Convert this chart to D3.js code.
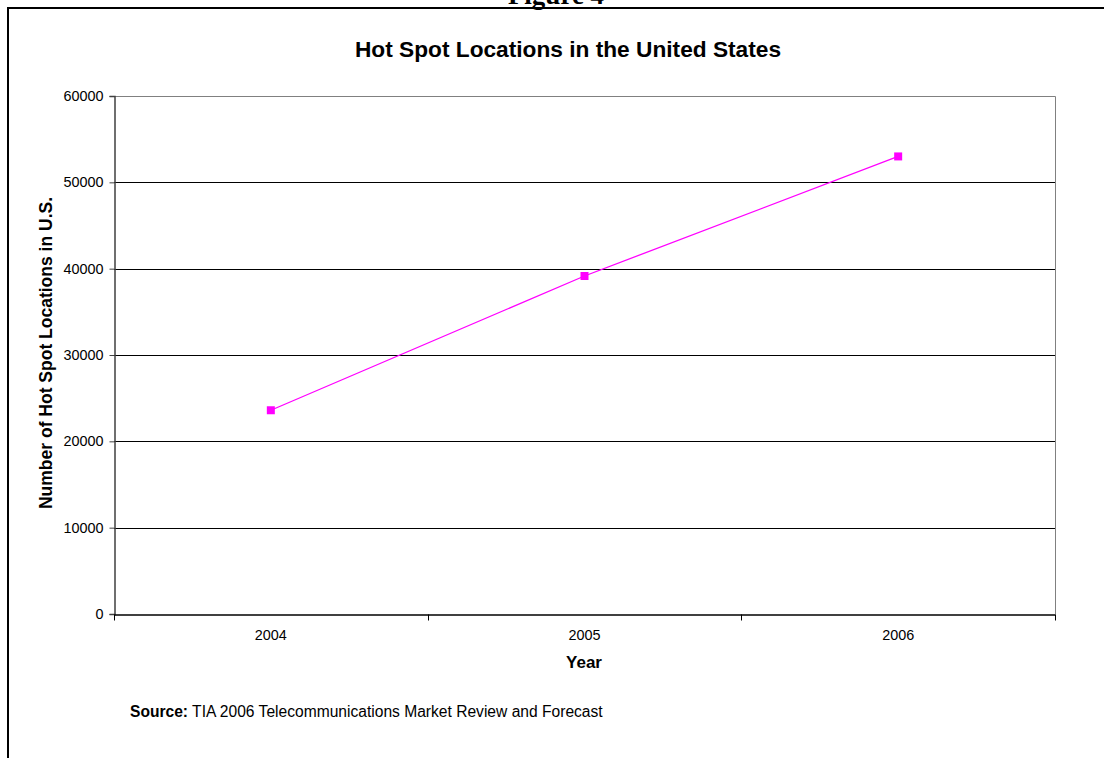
<!DOCTYPE html>
<html>
<head>
<meta charset="utf-8">
<script src="https://cdn.jsdelivr.net/npm/d3@7"></script>
<style>
  body { margin: 0; background: #fff; }
  text { font-family: Arial, "Liberation Sans", sans-serif; fill: #000; }
</style>
</head>
<body>
<script>
var years = ["2004", "2005", "2006"];
var hotSpots = [23600, 39150, 53000];
var yTicks = [0, 10000, 20000, 30000, 40000, 50000, 60000];

var width = 1104, height = 758;
var plot = {left: 114, right: 1055, top: 96, bottom: 614};

var svg = d3.select("body")
    .append("svg")
    .attr("width", width)
    .attr("height", height);

// page frame (document border)
svg.append("path")
    .attr("d", "M8," + height + "V8H" + width)
    .attr("fill", "none")
    .attr("stroke", "#000")
    .attr("stroke-width", 2);

svg.append("text")
    .attr("x", 556)
    .attr("y", 4)
    .attr("text-anchor", "middle")
    .style("font-family", "'Liberation Serif', 'Times New Roman', serif")
    .style("font-weight", "bold")
    .style("font-size", "27px")
    .text("Figure 4");

var x = d3.scaleBand()
    .domain(years)
    .range([plot.left, plot.right]);

var y = d3.scaleLinear()
    .domain([0, 60000])
    .range([plot.bottom, plot.top]);

// gridlines
svg.append("g")
    .selectAll("line")
    .data(yTicks.filter(function(d){ return d > 0 && d < 60000; }))
    .enter()
    .append("line")
    .attr("x1", plot.left)
    .attr("x2", plot.right)
    .attr("y1", function(d){ return Math.round(y(d)) + 0.5; })
    .attr("y2", function(d){ return Math.round(y(d)) + 0.5; })
    .attr("stroke", "#000")
    .attr("stroke-width", 1);

// top and right plot border
svg.append("path")
    .attr("d", "M" + plot.left + "," + (plot.top + 0.5) + "H" + (plot.right + 0.5) + "V" + plot.bottom)
    .attr("fill", "none")
    .attr("stroke", "#808080")
    .attr("stroke-width", 1);

// y axis
var yAxis = svg.append("g")
    .attr("transform", "translate(" + (plot.left + 0.5) + ",0)")
    .call(d3.axisLeft(y).tickValues(yTicks).tickSize(5).tickPadding(6).tickFormat(d3.format("d")));
yAxis.select(".domain").attr("stroke", "#404040").attr("stroke-width", 1.5);
yAxis.selectAll(".tick line").attr("stroke", "#404040");
yAxis.selectAll("text").style("font-size", "14.4px").attr("fill", "#000");

// x axis
var xAxis = svg.append("g")
    .attr("transform", "translate(0," + (plot.bottom + 0.5) + ")")
    .call(d3.axisBottom(x).tickSize(0).tickPadding(15));
xAxis.select(".domain").attr("stroke", "#000").attr("stroke-width", 1.5);
xAxis.selectAll("text").style("font-size", "14.4px").attr("fill", "#000");

// tick marks at the category boundaries
xAxis.selectAll(".bound")
    .data(years.concat(["end"]))
    .enter()
    .append("line")
    .attr("class", "bound")
    .attr("x1", function(d, i){ return Math.round(plot.left + i * x.step()) + 0.5; })
    .attr("x2", function(d, i){ return Math.round(plot.left + i * x.step()) + 0.5; })
    .attr("y1", 0)
    .attr("y2", 6)
    .attr("stroke", "#000");

// series line
var line = d3.line()
    .x(function(d, i){ return x(years[i]) + x.bandwidth() / 2; })
    .y(function(d){ return y(d); });

svg.append("path")
    .datum(hotSpots)
    .attr("d", line)
    .attr("fill", "none")
    .attr("stroke", "#ff00ff")
    .attr("stroke-width", 1.3);

svg.selectAll(".marker")
    .data(hotSpots)
    .enter()
    .append("rect")
    .attr("class", "marker")
    .attr("x", function(d, i){ return x(years[i]) + x.bandwidth() / 2 - 4; })
    .attr("y", function(d){ return y(d) - 4; })
    .attr("width", 8)
    .attr("height", 8)
    .attr("fill", "#ff00ff");

// titles
svg.append("text")
    .attr("x", 568)
    .attr("y", 57)
    .attr("text-anchor", "middle")
    .style("font-weight", "bold")
    .style("font-size", "22.7px")
    .text("Hot Spot Locations in the United States");

svg.append("text")
    .attr("transform", "translate(52,353) rotate(-90)")
    .attr("text-anchor", "middle")
    .style("font-weight", "bold")
    .style("font-size", "17.5px")
    .text("Number of Hot Spot Locations in U.S.");

svg.append("text")
    .attr("x", 584)
    .attr("y", 668)
    .attr("text-anchor", "middle")
    .style("font-weight", "bold")
    .style("font-size", "17px")
    .text("Year");

var src = svg.append("text")
    .attr("x", 130)
    .attr("y", 717)
    .style("font-size", "15.6px");
src.append("tspan").style("font-weight", "bold").text("Source:");
src.append("tspan").text(" TIA 2006 Telecommunications Market Review and Forecast");
</script>
</body>
</html>
